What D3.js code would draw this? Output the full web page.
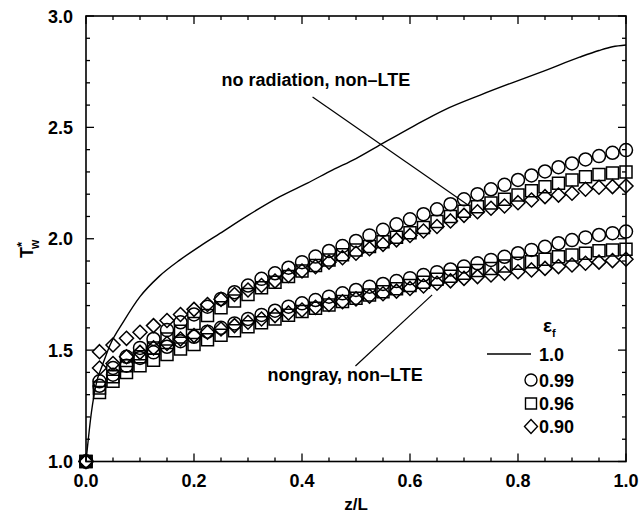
<!DOCTYPE html>
<html>
<head>
<meta charset="utf-8">
<script src="https://cdn.jsdelivr.net/npm/d3@7"></script>
<style>
  html, body { margin: 0; padding: 0; background: #fff; }
  svg text { font-family: "Liberation Sans", Arial, Helvetica, sans-serif; fill: #000; }
</style>
</head>
<body>
<svg id="chart" width="639" height="515"></svg>
<script>
// ---------- data ----------
const zValues = [0, 0.025, 0.05, 0.075, 0.1, 0.125, 0.15, 0.175, 0.2, 0.225, 0.25, 0.275, 0.3, 0.325, 0.35, 0.375, 0.4, 0.425, 0.45, 0.475, 0.5,
                 0.525, 0.55, 0.575, 0.6, 0.625, 0.65, 0.675, 0.7, 0.725, 0.75, 0.775, 0.8, 0.825, 0.85, 0.875, 0.9, 0.925, 0.95, 0.975, 1.0];

// upper band: no radiation, non-LTE
const noRad099 = [1.0, 1.36, 1.42, 1.47, 1.51, 1.55, 1.59, 1.625, 1.66, 1.695, 1.73, 1.76, 1.79, 1.82, 1.845, 1.87, 1.895, 1.92, 1.945, 1.967, 1.99,
                  2.015, 2.04, 2.065, 2.087, 2.11, 2.132, 2.155, 2.177, 2.20, 2.222, 2.242, 2.264, 2.284, 2.302, 2.321, 2.338, 2.356, 2.371, 2.386, 2.398];
const noRad096 = [1.0, 1.33, 1.38, 1.43, 1.47, 1.51, 1.55, 1.585, 1.62, 1.655, 1.69, 1.72, 1.75, 1.78, 1.805, 1.83, 1.855, 1.88, 1.905, 1.928, 1.95,
                  1.965, 1.987, 2.007, 2.027, 2.051, 2.077, 2.10, 2.124, 2.144, 2.16, 2.177, 2.196, 2.216, 2.234, 2.249, 2.264, 2.278, 2.288, 2.295, 2.30];
const noRad090 = [1.0, 1.493, 1.523, 1.553, 1.58, 1.61, 1.633, 1.66, 1.683, 1.705, 1.728, 1.75, 1.77, 1.79, 1.81, 1.835, 1.855, 1.875, 1.895, 1.915, 1.935,
                  1.955, 1.975, 1.995, 2.015, 2.035, 2.055, 2.08, 2.105, 2.121, 2.137, 2.147, 2.162, 2.174, 2.189, 2.196, 2.204, 2.222, 2.231, 2.234, 2.237];

// lower band: nongray, non-LTE
const nongray099 = [1.0, 1.34, 1.39, 1.43, 1.465, 1.49, 1.515, 1.54, 1.56, 1.583, 1.60, 1.62, 1.64, 1.658, 1.677, 1.695, 1.71, 1.725, 1.74, 1.755, 1.77,
                    1.785, 1.797, 1.81, 1.823, 1.837, 1.85, 1.862, 1.875, 1.89, 1.905, 1.919, 1.935, 1.95, 1.964, 1.98, 1.994, 2.006, 2.017, 2.025, 2.032];
const nongray096 = [1.0, 1.31, 1.36, 1.40, 1.43, 1.455, 1.48, 1.505, 1.525, 1.547, 1.567, 1.587, 1.605, 1.623, 1.64, 1.657, 1.673, 1.688, 1.703, 1.718, 1.733,
                    1.748, 1.762, 1.776, 1.79, 1.805, 1.818, 1.832, 1.845, 1.857, 1.867, 1.878, 1.89, 1.897, 1.908, 1.919, 1.927, 1.935, 1.946, 1.949, 1.953];
const nongray090 = [1.0, 1.42, 1.44, 1.47, 1.49, 1.51, 1.53, 1.55, 1.565, 1.58, 1.595, 1.61, 1.625, 1.64, 1.655, 1.667, 1.68, 1.692, 1.705, 1.717, 1.73,
                    1.742, 1.753, 1.765, 1.777, 1.788, 1.80, 1.811, 1.822, 1.83, 1.837, 1.845, 1.852, 1.86, 1.867, 1.875, 1.882, 1.89, 1.895, 1.902, 1.908];

// solid line (eps_f = 1.0)
const lineZ = [0, 0.01, 0.02, 0.03, 0.044, 0.07, 0.1, 0.135, 0.174, 0.21, 0.248, 0.3, 0.359, 0.41, 0.457, 0.5, 0.54, 0.606, 0.665, 0.73, 0.789, 0.85, 0.914, 0.95, 0.975, 1.0];
const lineT = [1.0, 1.22, 1.36, 1.43, 1.52, 1.63, 1.74, 1.83, 1.905, 1.965, 2.024, 2.105, 2.189, 2.25, 2.309, 2.36, 2.415, 2.505, 2.58, 2.645, 2.70, 2.755, 2.815, 2.845, 2.862, 2.87];

const xTicks = [0.0, 0.2, 0.4, 0.6, 0.8, 1.0];
const yTicks = [1.0, 1.5, 2.0, 2.5, 3.0];
const legendLabels = ["1.0", "0.99", "0.96", "0.90"];

// annotations (data coordinates)
const annoNoRad = { text: "no radiation, non\u2013LTE", tz: 0.251, tT: 2.686, from: [0.4196, 2.636], to: [0.71, 2.147] };
const annoNongray = { text: "nongray, non\u2013LTE", tz: 0.336, tT: 1.361, from: [0.499, 1.429], to: [0.641, 1.748] };

// ---------- drawing ----------
const svg = d3.select("#chart");
const x = d3.scaleLinear().domain([0, 1]).range([86, 626]);
const y = d3.scaleLinear().domain([1, 3]).range([461.5, 16]);

const g = svg.append("g");

// frame
g.append("rect").attr("x", x(0)).attr("y", y(3)).attr("width", x(1) - x(0)).attr("height", y(1) - y(3))
  .attr("fill", "none").attr("stroke", "#000").attr("stroke-width", 1.6);

// ticks (inward) on all four sides
const xMinor = d3.range(0, 1.0001, 0.05);
const yMinor = d3.range(1, 3.0001, 0.1);
function isMajorX(v) { return Math.abs(v * 5 - Math.round(v * 5)) < 1e-6; }
function isMajorY(v) { return Math.abs(v * 2 - Math.round(v * 2)) < 1e-6; }
const tickG = g.append("g").attr("stroke", "#000").attr("stroke-width", 1.3);
xMinor.forEach(v => {
  const L = isMajorX(v) ? 8 : 4;
  tickG.append("line").attr("x1", x(v)).attr("x2", x(v)).attr("y1", y(1)).attr("y2", y(1) - L);
  tickG.append("line").attr("x1", x(v)).attr("x2", x(v)).attr("y1", y(3)).attr("y2", y(3) + L);
});
yMinor.forEach(v => {
  const L = isMajorY(v) ? 8 : 4;
  tickG.append("line").attr("x1", x(0)).attr("x2", x(0) + L).attr("y1", y(v)).attr("y2", y(v));
  tickG.append("line").attr("x1", x(1)).attr("x2", x(1) - L).attr("y1", y(v)).attr("y2", y(v));
});

// tick labels
g.selectAll(".xl").data(xTicks).enter().append("text")
  .attr("x", d => x(d)).attr("y", y(1) + 25).attr("text-anchor", "middle")
  .attr("font-size", 18).attr("font-weight", "bold").text(d => d.toFixed(1));
g.selectAll(".yl").data(yTicks).enter().append("text")
  .attr("x", x(0) - 13).attr("y", d => y(d) + 6.5).attr("text-anchor", "end")
  .attr("font-size", 18).attr("font-weight", "bold").text(d => d.toFixed(1));

// axis titles
g.append("text").attr("x", (x(0) + x(1)) / 2).attr("y", 510).attr("text-anchor", "middle")
  .attr("font-size", 17).attr("font-weight", "bold").text("z/L");
const yt = g.append("text").attr("transform", "translate(33,258) rotate(-90)")
  .attr("font-size", 18).attr("font-weight", "bold");
yt.append("tspan").text("T");
yt.append("tspan").attr("dy", -7).attr("font-size", 13).text("*");
yt.append("tspan").attr("dx", -7).attr("dy", 13).attr("font-size", 12).text("w");

// solid curve
const lineData = lineZ.map((z, i) => [z, lineT[i]]);
g.append("path").datum(lineData)
  .attr("d", d3.line().x(d => x(d[0])).y(d => y(d[1])).curve(d3.curveMonotoneX))
  .attr("fill", "none").attr("stroke", "#000").attr("stroke-width", 1.4);

// marker shapes
const circleSym = d3.symbol().type(d3.symbolCircle).size(Math.PI * 6.5 * 6.5);
function squarePath(s) { const h = s / 2; return `M${-h},${-h}H${h}V${h}H${-h}Z`; }
function diamondPath(w, hgt) { const a = w / 2, b = hgt / 2; return `M0,${-b}L${a},0L0,${b}L${-a},0Z`; }

function drawSeries(vals, kind) {
  const pts = zValues.map((z, i) => [z, vals[i]]);
  g.append("g").selectAll("path").data(pts).enter().append("path")
    .attr("transform", d => `translate(${x(d[0])},${y(d[1])})`)
    .attr("d", kind === "circle" ? circleSym() : kind === "square" ? squarePath(12) : diamondPath(14, 14))
    .attr("fill", "none").attr("stroke", "#000").attr("stroke-width", 1.5);
}
drawSeries(noRad090, "diamond");
drawSeries(nongray090, "diamond");
drawSeries(noRad096, "square");
drawSeries(nongray096, "square");
drawSeries(noRad099, "circle");
drawSeries(nongray099, "circle");

// annotations
[annoNoRad, annoNongray].forEach(a => {
  g.append("text").attr("x", x(a.tz)).attr("y", y(a.tT)).attr("font-size", 18).attr("font-weight", "bold").text(a.text);
  g.append("line").attr("x1", x(a.from[0])).attr("y1", y(a.from[1])).attr("x2", x(a.to[0])).attr("y2", y(a.to[1]))
    .attr("stroke", "#000").attr("stroke-width", 1.2);
});

// legend
const lg = g.append("g");
const eps = lg.append("text").attr("x", 543).attr("y", 332).attr("font-size", 19).attr("font-weight", "bold");
eps.append("tspan").text("\u03b5");
eps.append("tspan").attr("dy", 5).attr("font-size", 11).text("f");
const rowY = [354, 380, 403.5, 426.5];
legendLabels.forEach((lab, i) => {
  const yy = rowY[i];
  if (i === 0) {
    lg.append("line").attr("x1", 487).attr("x2", 531).attr("y1", yy).attr("y2", yy).attr("stroke", "#000").attr("stroke-width", 1.4);
  } else {
    const d = i === 1 ? d3.symbol().type(d3.symbolCircle).size(Math.PI * 36)() : i === 2 ? squarePath(11) : diamondPath(13, 14);
    lg.append("path").attr("transform", `translate(531,${yy})`).attr("d", d)
      .attr("fill", "none").attr("stroke", "#000").attr("stroke-width", 1.4);
  }
  lg.append("text").attr("x", 539).attr("y", yy + 6.5).attr("font-size", 18).attr("font-weight", "bold").text(lab);
});
</script>
</body>
</html>
